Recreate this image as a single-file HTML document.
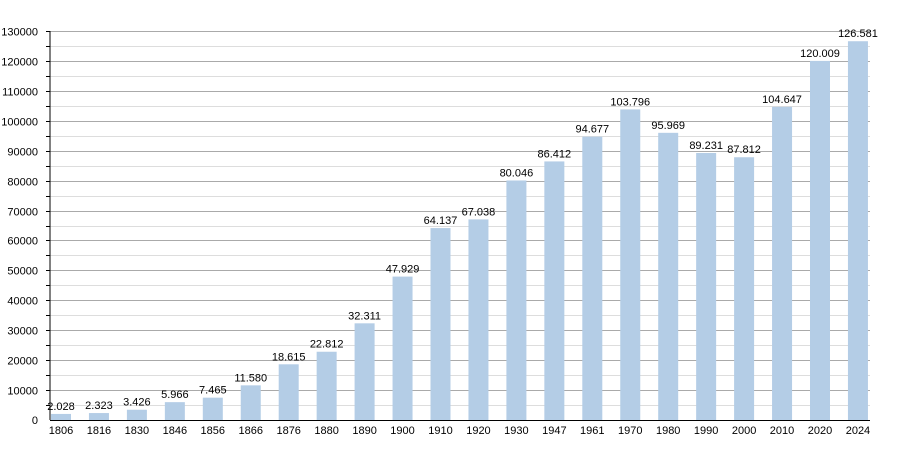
<!DOCTYPE html>
<html><head><style>body{margin:0;background:#fff}svg{display:block;font-family:"Liberation Sans",sans-serif}</style></head>
<body>
<svg width="900" height="450" xmlns="http://www.w3.org/2000/svg">
<g id="grid"></g>
<g id="bars"></g>
<line x1="50" y1="31" x2="50" y2="420" stroke="#000" stroke-width="1"/>
<line x1="50" y1="420.5" x2="870" y2="420.5" stroke="#000" stroke-width="1"/>
<script>
var ns="http://www.w3.org/2000/svg";
function el(t,a,txt){var e=document.createElementNS(ns,t);for(var k in a)e.setAttribute(k,a[k]);if(txt)e.textContent=txt;return e;}
var g=document.getElementById('grid'),b=document.getElementById('bars');
function Y(v){return 420-v*389/130000;}
for(var v=5000;v<=130000;v+=5000){var y=Math.round(Y(v))+0.5;var maj=v%10000==0;
g.appendChild(el('line',{x1:50,x2:870,y1:y,y2:y,stroke:maj?'#aaa':'#ddd','stroke-width':1}));
g.appendChild(el('line',{x1:46,x2:50,y1:y,y2:y,stroke:'#000','stroke-width':1}));
if(maj)g.appendChild(el('text',{x:38,y:y+4,'text-anchor':'end','font-size':11},String(v)));}
g.appendChild(el('text',{x:38,y:424,'text-anchor':'end','font-size':11},'0'));
var d=[[1806,2028],[1816,2323],[1830,3426],[1846,5966],[1856,7465],[1866,11580],[1876,18615],[1880,22812],[1890,32311],[1900,47929],[1910,64137],[1920,67038],[1930,80046],[1947,86412],[1961,94677],[1970,103796],[1980,95969],[1990,89231],[2000,87812],[2010,104647],[2020,120009],[2024,126581]];
d.forEach(function(p,i){var x=51+i*37.95,y=Y(p[1]);
b.appendChild(el('rect',{x:x,y:y,width:20,height:420-y,fill:'#b4cde6'}));
var s=p[1].toString();s=s.length>3?s.slice(0,-3)+'.'+s.slice(-3):s;
b.appendChild(el('text',{x:x+10,y:y-4,'text-anchor':'middle','font-size':11},s));
b.appendChild(el('text',{x:x+10,y:434,'text-anchor':'middle','font-size':11},String(p[0])));});
</script>
</svg>
</body></html>
